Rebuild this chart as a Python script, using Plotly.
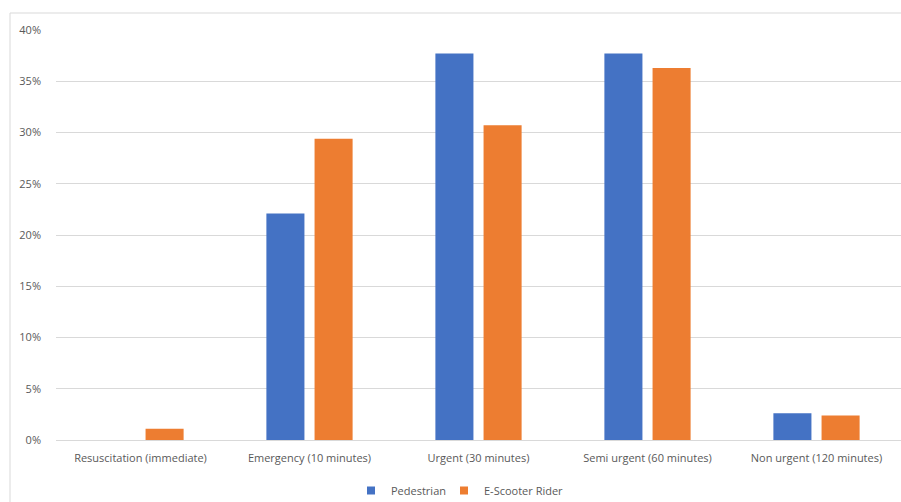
import plotly.graph_objects as go

categories = ["Resuscitation (immediate)", "Emergency (10 minutes)", "Urgent (30 minutes)",
              "Semi urgent (60 minutes)", "Non urgent (120 minutes)"]
pedestrian = [0.0, 0.221, 0.377, 0.377, 0.026]
escooter = [0.011, 0.294, 0.307, 0.363, 0.024]
series_names = ["Pedestrian", "E-Scooter Rider"]
colors = ["#4472C4", "#ED7D31"]
ytickvals = [0, 0.05, 0.10, 0.15, 0.20, 0.25, 0.30, 0.35, 0.40]
yticktext = ["0%", "5%", "10%", "15%", "20%", "25%", "30%", "35%", "40%"]

font_family = "Open Sans, Liberation Sans, sans-serif"
text_color = "#595959"
grid_color = "#d9d9d9"

W, H = 901, 502
ml, mr, mt, mb = 56, 0, 30, 62
pw = W - ml - mr
ph = H - mt - mb

legend_ids = ["legend", "legend2"]
legend_x_px = [351, 444]

fig = go.Figure()
for name, vals, col in zip(series_names, [pedestrian, escooter], colors):
    fig.add_trace(go.Bar(x=categories, y=vals, name=name, marker=dict(color=col, line=dict(width=0)),
                         showlegend=False))
for name, col, lid in zip(series_names, colors, legend_ids):
    fig.add_trace(go.Scatter(x=[None], y=[None], mode="markers", name=name, legend=lid,
                             marker=dict(symbol="square", size=8, color=col)))

def legend_cfg(x_px):
    return dict(orientation="h", x=(x_px - ml) / pw, xanchor="left",
                y=(440 - 476) / ph, yanchor="top", font=dict(size=11, color=text_color),
                itemwidth=30, bgcolor="rgba(0,0,0,0)", borderwidth=0)

fig.update_layout(
    width=W, height=H,
    margin=dict(l=ml, r=mr, t=mt, b=mb, pad=0, autoexpand=False),
    paper_bgcolor="white", plot_bgcolor="white",
    barmode="group", bargap=0.43, bargroupgap=0.21,
    font=dict(family=font_family, size=11, color=text_color),
    xaxis=dict(showgrid=False, showline=True, linecolor=grid_color, linewidth=1,
               ticks="", tickfont=dict(size=11, color=text_color), ticklabelstandoff=8,
               automargin=False, fixedrange=True),
    yaxis=dict(range=[0, 0.4], tickvals=ytickvals, ticktext=yticktext,
               showgrid=True, gridcolor=grid_color, gridwidth=1, zeroline=False,
               showline=False, ticks="", ticklabelstandoff=14, automargin=False,
               tickfont=dict(size=11, color=text_color)),
    legend=legend_cfg(legend_x_px[0]),
    legend2=legend_cfg(legend_x_px[1]),
    shapes=[dict(type="rect", xref="paper", yref="paper",
                 x0=(10 - ml) / pw, x1=1.2, y0=-0.5, y1=1 + (mt - 13) / ph,
                 line=dict(color=grid_color, width=1), layer="below")],
)

fig.write_html("out.html")
